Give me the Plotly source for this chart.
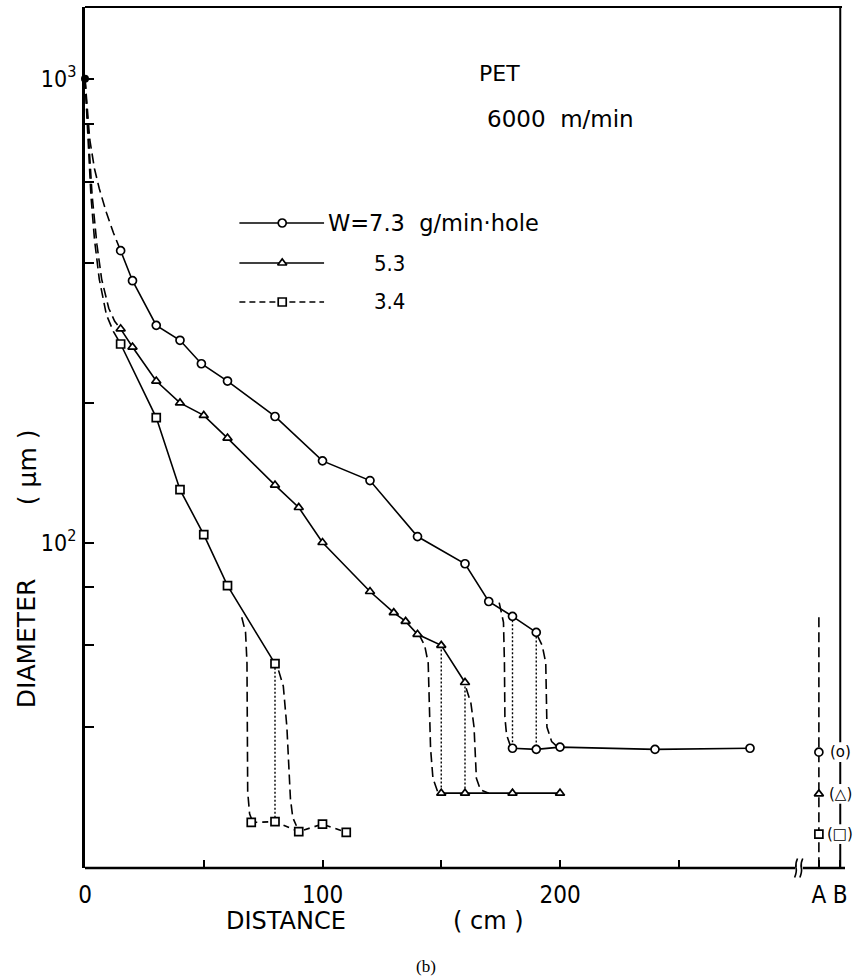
import math
import plotly.graph_objects as go

# ---------------- data ----------------
# W = 7.3 g/min-hole  (circles)
c_x = [15, 20, 30, 40, 49, 60, 80, 100, 120, 140, 160, 170, 180, 190]
c_y = [426, 367, 294, 273, 243, 223, 187, 150, 136, 103, 90, 74.6, 69.3, 64.0]
c_low_x = [180, 190, 200, 240, 280]
c_low_y = [36.0, 35.8, 36.2, 35.8, 36.0]
c_head_x = [0, 1, 2, 4, 6, 9, 12, 15]
c_head_y = [1000, 850, 740, 640, 580, 515, 465, 426]
c_left_x = [174.4, 176.2, 176.6, 176.8, 177.5, 179.3]
c_left_y = [74.2, 67.3, 55, 42, 38.5, 36.2]
c_right_x = [190.5, 192.5, 194, 194.3, 194.5, 196.5, 199]
c_right_y = [63, 60, 55, 47, 40, 37.2, 36.2]
c_drop_x = [180, 190]

# W = 5.3 (triangles)
t_x = [15, 20, 30, 40, 50, 60, 80, 90, 100, 120, 130, 135, 140, 150, 160]
t_y = [289, 264, 223, 200, 188, 168, 133, 119, 100, 78.4, 70.6, 67.6, 63.4, 60.0, 49.9]
t_low_x = [150, 160, 180, 200]
t_low_y = [28.8, 28.8, 28.8, 28.8]
t_head_x = [0, 1.5, 3, 5, 7, 10, 12.5, 15]
t_head_y = [1000, 740, 560, 440, 370, 320, 300, 289]
t_left_x = [140.5, 143, 144.5, 145, 145.5, 146.5, 148.5]
t_left_y = [63.5, 60, 55, 45, 36, 31, 29]
t_right_x = [160.5, 162.5, 163.8, 164.3, 164.8, 166.5, 170]
t_right_y = [48.5, 45, 40, 35, 31, 29.3, 28.8]
t_drop_x = [150, 160]

# W = 3.4 (squares)
s_x = [15, 30, 40, 50, 60, 80]
s_y = [268, 186, 130, 104, 80.7, 54.8]
s_low_x = [70, 80, 90, 100, 110]
s_low_y = [24.9, 25.0, 23.8, 24.7, 23.7]
s_head_x = [0, 1.3, 2.5, 4, 6, 9, 12, 15]
s_head_y = [1000, 740, 560, 450, 370, 310, 285, 268]
s_left_x = [66, 67.6, 68.2, 68.3, 68.5, 69.3, 70.3]
s_left_y = [69, 64, 55, 40, 29, 26, 25.2]
s_right_x = [81.5, 83.5, 85, 85.8, 86.5, 87.5, 89]
s_right_y = [53, 49, 40, 32, 28, 25.5, 24.5]
s_drop_x = [80]

# positions A and B (after the axis break)
pos_A = 309
pos_B = 318
ab_y = [35.3, 28.7, 23.5]          # circle, triangle, square
ab_labels = ["(o)", "(\u25b3)", "(\u25a1)"]
a_top = 69

x_ticks = [0, 50, 100, 150, 200, 250, pos_A, pos_B]
x_ticktext = ["0", "", "100", "", "200", "", "A", "B"]
y_ticks = [40, 60, 80, 100, 200, 400, 600, 800, 1000]
y_ticktext = ["", "", "", "10<sup>2</sup>", "", "", "", "", "10<sup>3</sup>"]

legend_labels = ["W=7.3  g/min\u00b7hole", "5.3", "3.4"]

# ---------------- layout geometry ----------------
W, H = 853, 980
L, R, T, B = 85, 5, 7, 112
pw, ph = W - L - R, H - T - B
X_RANGE = [0, 320]
Y_RANGE = [1.298, 3.155]


def px(x):
    return (x - L) / pw


def py(y):
    return (H - B - y) / ph


K = "black"
DASH = "10px,5px"
DOT = "2px,2px"
fig = go.Figure()


def line(xs, ys, dash="solid", width=1.6):
    fig.add_trace(go.Scatter(x=xs, y=ys, mode="lines",
                             line=dict(color=K, width=width, dash=dash),
                             hoverinfo="skip", showlegend=False))


def marks(xs, ys, symbol, size=8):
    fig.add_trace(go.Scatter(x=xs, y=ys, mode="markers",
                             marker=dict(symbol=symbol, size=size, color="white",
                                         line=dict(color=K, width=1.7)),
                             hoverinfo="skip", showlegend=False))


def drop(xs, up_x, up_y, lo_x, lo_y):
    for xv in xs:
        line([xv, xv], [up_y[up_x.index(xv)], lo_y[lo_x.index(xv)]], dash=DOT, width=1.4)


# circles
line(c_head_x, c_head_y, dash=DASH)
line(c_x, c_y)
line(c_left_x, c_left_y, dash=DASH)
line(c_right_x, c_right_y, dash=DASH)
drop(c_drop_x, c_x, c_y, c_low_x, c_low_y)
line(c_low_x, c_low_y)
# triangles
line(t_head_x, t_head_y, dash=DASH)
line(t_x, t_y)
line(t_left_x, t_left_y, dash=DASH)
line(t_right_x, t_right_y, dash=DASH)
drop(t_drop_x, t_x, t_y, t_low_x, t_low_y)
line(t_low_x, t_low_y)
# squares
line(s_head_x, s_head_y, dash=DASH)
line(s_x, s_y)
line(s_left_x, s_left_y, dash=DASH)
line(s_right_x, s_right_y, dash=DASH)
drop(s_drop_x, s_x, s_y, s_low_x, s_low_y)
line(s_low_x, s_low_y, dash="6px,5px")

# A: dashed vertical line with the three markers
line([pos_A, pos_A], [a_top, 10 ** Y_RANGE[0]], dash=DASH)
# B: right frame line interrupted by the labels
gap = 1.05
seg_y = [10 ** Y_RANGE[1]]
for v in ab_y:
    seg_y += [v * gap, None, v / gap]
seg_y.append(10 ** Y_RANGE[0])
seg_x = [pos_B if v is not None else None for v in seg_y]
fig.add_trace(go.Scatter(x=seg_x, y=seg_y, mode="lines", connectgaps=False,
                         line=dict(color=K, width=2), hoverinfo="skip", showlegend=False))

marks(c_x + c_low_x + [pos_A], c_y + c_low_y + [ab_y[0]], "circle")
marks(t_x + t_low_x + [pos_A], t_y + t_low_y + [ab_y[1]], "triangle-up")
marks(s_x + s_low_x + [pos_A], s_y + s_low_y + [ab_y[2]], "square")
for v, lab in zip(ab_y, ab_labels):
    fig.add_annotation(x=pos_B, y=math.log10(v), text=lab, showarrow=False,
                       xanchor="center", yanchor="middle",
                       font=dict(family="DejaVu Sans", size=15, color=K))

# common origin point
fig.add_trace(go.Scatter(x=[c_head_x[0]], y=[c_head_y[0]], mode="markers",
                         marker=dict(size=8, color=K), cliponaxis=False,
                         hoverinfo="skip", showlegend=False))

# ---------------- legend (drawn on an overlay axis) ----------------
leg_rows = [223, 263, 302]
leg_sym = ["circle", "triangle-up", "square"]
leg_dash = ["solid", "solid", "6px,4px"]
for r, sym, dsh in zip(leg_rows, leg_sym, leg_dash):
    yy = py(r)
    fig.add_trace(go.Scatter(x=[px(240), px(325)], y=[yy, yy], mode="lines",
                             xaxis="x2", yaxis="y2",
                             line=dict(color=K, width=1.6, dash=dsh),
                             hoverinfo="skip", showlegend=False))
    fig.add_trace(go.Scatter(x=[px(283)], y=[yy], mode="markers", xaxis="x2", yaxis="y2",
                             marker=dict(symbol=sym, size=8, color="white",
                                         line=dict(color=K, width=1.7)),
                             hoverinfo="skip", showlegend=False))


def text(x, y, s, size, family="DejaVu Sans", xanchor="center", angle=0):
    fig.add_annotation(xref="paper", yref="paper", x=px(x), y=py(y), text=s,
                       xanchor=xanchor, yanchor="middle", textangle=angle,
                       showarrow=False, font=dict(family=family, size=size, color=K))


text(327, leg_rows[0], legend_labels[0], 22.5, xanchor="left")
for r, lab in zip(leg_rows[1:], legend_labels[1:]):
    text(391, r, lab, 22, family="DejaVu Sans Condensed")

text(501, 73, "PET", 22)
text(487, 119, "6000\u00a0 m/min", 23, xanchor="left")
text(225, 921, "DISTANCE", 24, xanchor="left")
text(452, 921, "( cm )", 24, xanchor="left")
text(27, 643, "DIAMETER", 25, angle=-90)
text(27, 467, "( \u03bcm )", 25, angle=-90)
text(427, 966, "(b)", 17, family="Liberation Serif")

# frame pieces: top border, bottom axis with a break
shapes = [
    dict(type="line", xref="paper", yref="paper", x0=0, x1=px(845), y0=1, y1=1,
         line=dict(color=K, width=2)),
    dict(type="line", xref="x", yref="paper", x0=0, x1=299, y0=0, y1=0,
         line=dict(color=K, width=2.5)),
    dict(type="line", xref="x", yref="paper", x0=302.2, x1=320, y0=0, y1=0,
         line=dict(color=K, width=2.5)),
    dict(type="path", xref="x", yref="paper",
         path="M 298.8,-0.011 Q 299.8,-0.004 299.4,0 Q 299.0,0.005 300.0,0.011",
         line=dict(color=K, width=1.6)),
    dict(type="path", xref="x", yref="paper",
         path="M 301.0,-0.011 Q 302.0,-0.004 301.6,0 Q 301.2,0.005 302.2,0.011",
         line=dict(color=K, width=1.6)),
]

fig.update_layout(
    width=W, height=H, margin=dict(l=L, r=R, t=T, b=B),
    paper_bgcolor="white", plot_bgcolor="white", showlegend=False,
    shapes=shapes,
    xaxis=dict(range=X_RANGE, showgrid=False, zeroline=False, showline=False,
               tickmode="array", tickvals=x_ticks, ticktext=x_ticktext,
               ticks="inside", ticklen=8, tickwidth=1.5, tickcolor=K,
               ticklabelstandoff=10,
               tickfont=dict(family="DejaVu Sans Condensed", size=24, color=K)),
    yaxis=dict(type="log", range=Y_RANGE, showgrid=False, zeroline=False,
               showline=True, linewidth=3, linecolor=K,
               tickmode="array", tickvals=y_ticks, ticktext=y_ticktext,
               ticks="inside", ticklen=9, tickwidth=1.5, tickcolor=K,
               ticklabelstandoff=1,
               tickfont=dict(family="DejaVu Sans Condensed", size=23, color=K)),
    xaxis2=dict(overlaying="x", range=[0, 1], visible=False),
    yaxis2=dict(overlaying="y", range=[0, 1], visible=False),
)

fig.write_html("out.html")
